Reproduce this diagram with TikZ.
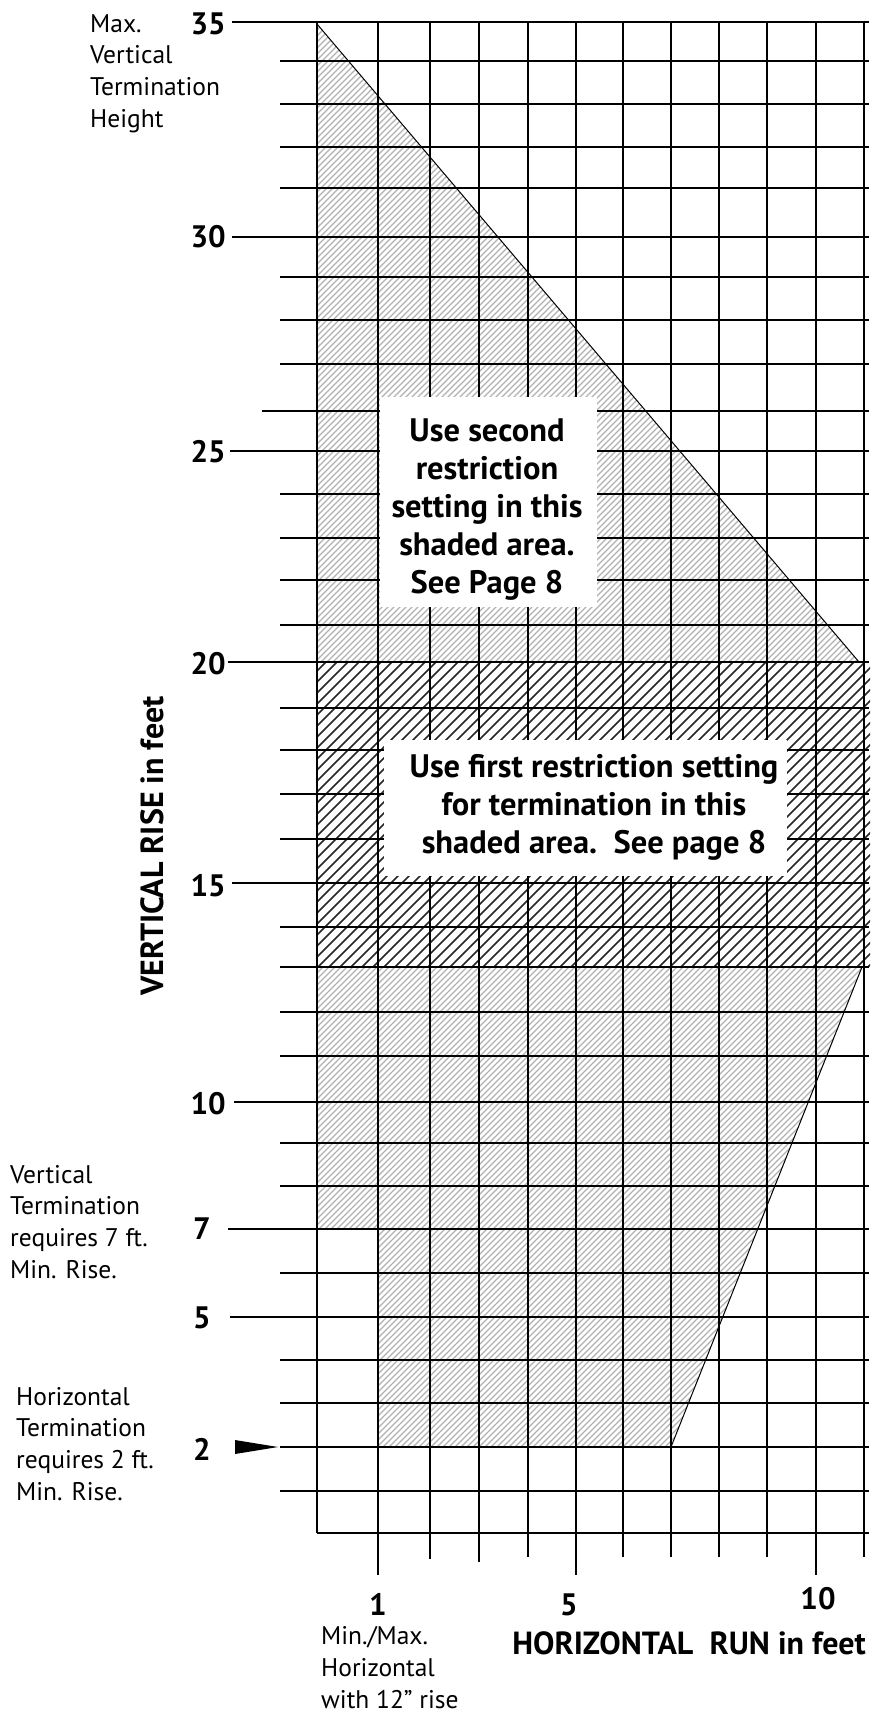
\documentclass[tikz,border=0pt]{standalone}
\usepackage{fontspec}
\setmainfont{PT Sans}
\begin{document}
\begin{tikzpicture}[x=1pt,y=-1pt,
  gridline/.style={line width=1.2pt, black},
  lighthatch/.style={line width=1.1pt, color=black!30},
  darkhatch/.style={line width=1.5pt, color=black!85},
  edgeline/.style={line width=1pt, black},
  lbl/.style={font=\fontsize{25.5}{31.6}\selectfont, align=left, inner sep=0pt, anchor=base west},
  num/.style={font=\fontsize{31}{36}\selectfont\bfseries, inner sep=0pt},
  boxtext/.style={font=\fontsize{32.5}{38}\selectfont\bfseries, align=center, inner sep=0pt, anchor=base},
  axtitle/.style={font=\fontsize{32}{36}\selectfont\bfseries, inner sep=0pt},
  whitebox/.style={fill=white, draw=none}
]
\useasboundingbox (0,0) rectangle (872,1714);
\fill[white] (0,0) rectangle (872,1714);

% ---- hatched areas ----
\begin{scope}
  \clip (317,24) -- (859,662) -- (317,662) -- cycle;
  \foreach \c in {317,323,...,1600} \draw[lighthatch] (\c,0) -- ++(-1714,1714);
\end{scope}
\begin{scope}
  \clip (317,662) rectangle (870,967);
  \foreach \c in {317,328,...,1900} \draw[darkhatch] (\c,0) -- ++(-1714,1714);
\end{scope}
\begin{scope}
  \clip (317,967) -- (862,967) -- (671,1447) -- (378,1447) -- (378,1229) -- (317,1229) -- cycle;
  \foreach \c in {1200,1206,...,2400} \draw[lighthatch] (\c,0) -- ++(-1714,1714);
\end{scope}

% ---- horizontal grid lines ----
\foreach \v/\y/\xs in {1/1491/280,2/1447/280,3/1403/280,4/1360/280,5/1317/230,
  6/1273/280,7/1229/228,8/1186/280,9/1143/280,10/1102/234,11/1056/280,12/1012/280,
  13/967/280,14/927/280,15/883/232,16/839/280,17/794/280,18/750/280,19/708/280,
  20/662/228,21/625/280,22/580/280,23/538/280,24/494/280,25/451/230,26/411/262,
  27/364/280,28/320/280,29/277/280,30/237/232,31/188/280,32/147/280,33/104/280,
  34/61/280,35/22/232}
{
  \coordinate (hs\v) at (\xs,\y);
  \coordinate (he\v) at (869,\y);
  \draw[gridline] (hs\v) -- (he\v);
}
\coordinate (hs0) at (317,1533);
\coordinate (he0) at (869,1533);
\draw[gridline] (hs0) -- (he0);

% ---- vertical grid lines ----
\foreach \i/\x/\e in {0/317/1533,1/378/1575,2/430/1559,3/479/1562,4/528/1557,5/576/1575,
  6/623/1557,7/671/1557,8/719/1557,9/767/1557,10/816/1575,11/864/1557}
{
  \coordinate (vt\i) at (\x,22);
  \coordinate (vb\i) at (\x,\e);
  \draw[gridline] (vt\i) -- (vb\i);
}

% ---- boundary diagonals ----
\coordinate (apex) at (317,24);
\coordinate (tipA) at (859,662);
\coordinate (tipB) at (862,967);
\coordinate (footB) at (671,1447);
\draw[edgeline] (apex) -- (tipA);
\draw[edgeline] (tipB) -- (footB);

% ---- white text boxes ----
\fill[whitebox] (380,397) rectangle (597,607);
\fill[whitebox] (384,740) rectangle (787,876);

\node[boxtext] (second) at (487,593) {Use second\\restriction\\setting in this\\shaded area.\\See Page 8};
\node[boxtext] (first) at (594,853) {Use first restriction setting\\for termination in this\\shaded area.\ \ See page 8};

% ---- y axis numbers ----
\node[num, anchor=east] (n35) at (226,24) {35};
\node[num, anchor=east] (n30) at (226,237) {30};
\node[num, anchor=east] (n25) at (226,452) {25};
\node[num, anchor=east] (n20) at (226,664) {20};
\node[num, anchor=east] (n15) at (226,886) {15};
\node[num, anchor=east] (n10) at (226,1104) {10};
\node[num, anchor=east] (n7) at (211,1229) {7};
\node[num, anchor=east] (n5) at (211,1318) {5};
\node[num, anchor=east] (n2) at (211,1449) {2};

% arrow at 2
\coordinate (arrTip) at (278,1447);
\fill[black] (235,1440) -- (arrTip) -- (235,1454) -- cycle;

% ---- x axis numbers ----
\node[num] (x1) at (378,1604) {1};
\node[num] (x5) at (569,1605) {5};
\node[num] (x10) at (818,1599) {10};

% ---- axis titles ----
\node[axtitle, rotate=90, anchor=base] (ytitle) at (163,846) {VERTICAL RISE in feet};
\node[axtitle, anchor=base east] (xtitle) at (866,1654) {HORIZONTAL\ \ RUN in feet};

% ---- side notes ----
\node[lbl] (maxv) at (90,127) {Max.\\Vertical\\Termination\\Height};
\node[lbl] (vterm) at (10,1278) {Vertical\\Termination\\requires 7 ft.\\Min. Rise.};
\node[lbl] (hterm) at (16,1500) {Horizontal\\Termination\\requires 2 ft.\\Min. Rise.};
\node[lbl] (minmax) at (321,1708) {Min./Max.\\Horizontal\\with 12” rise};
\end{tikzpicture}
\end{document}
